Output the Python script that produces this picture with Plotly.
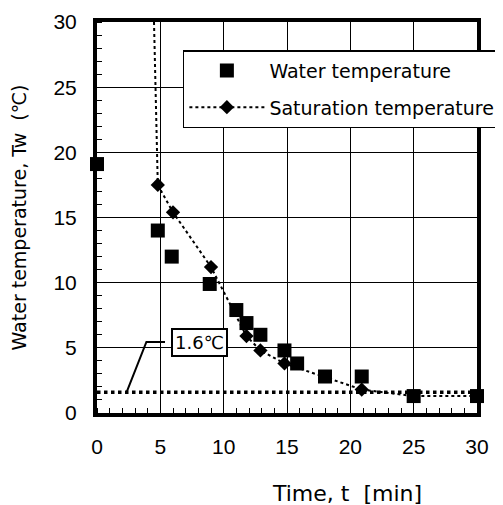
import plotly.graph_objects as go

# Water temperature (squares)
water_t = [0, 4.8, 5.9, 8.9, 11.0, 11.8, 12.9, 14.8, 15.8, 18.0, 20.9, 25.0, 30.0]
water_T = [19.1, 14.0, 12.0, 9.9, 7.9, 6.9, 6.0, 4.8, 3.8, 2.8, 2.8, 1.3, 1.3]

# Saturation temperature: steep initial part, then diamonds
sat_lead_t = [4.5, 4.8]
sat_lead_T = [30.0, 17.5]
sat_t = [4.8, 6.0, 9.0, 11.8, 12.9, 14.8, 20.9]
sat_T = [17.5, 15.4, 11.2, 5.9, 4.8, 3.8, 1.8]
sat_tail_t = [20.9, 25.0, 30.0]
sat_tail_T = [1.8, 1.3, 1.3]

# 1.6 degC reference level
ref_t = [0, 30]
ref_T = [1.6, 1.6]

# leader line of the "1.6℃" label
lead_t = [2.34, 3.9, 5.37]
lead_T = [1.6, 5.45, 5.45]
label_t, label_T = 8.13, 5.4

x_ticks = [0, 5, 10, 15, 20, 25, 30]
y_ticks = [0, 5, 10, 15, 20, 25, 30]
x_title = "Time, t  [min]"
y_title = "Water temperature, Tw  (℃)"

FONT = "DejaVu Sans"
DOT = dict(color="black", width=2, dash="dot")

fig = go.Figure()

fig.add_trace(go.Scatter(
    x=ref_t, y=ref_T, mode="lines", showlegend=False,
    line=dict(color="black", width=3.5, dash="dot"), hoverinfo="skip"))

fig.add_trace(go.Scatter(
    x=lead_t, y=lead_T, mode="lines", showlegend=False,
    line=dict(color="black", width=2), hoverinfo="skip"))

fig.add_trace(go.Scatter(
    x=sat_lead_t, y=sat_lead_T, mode="lines", showlegend=False,
    line=DOT, hoverinfo="skip"))
fig.add_trace(go.Scatter(
    x=sat_tail_t, y=sat_tail_T, mode="lines", showlegend=False,
    line=DOT, hoverinfo="skip"))

fig.add_trace(go.Scatter(
    x=sat_t, y=sat_T, mode="lines+markers", name="Saturation temperature",
    legendgroup="b", legendrank=2,
    line=DOT,
    marker=dict(symbol="diamond", color="black", size=11, opacity=1,
                line=dict(width=0))))

fig.add_trace(go.Scatter(
    x=water_t, y=water_T, mode="markers", name="Water temperature",
    legendgroup="a", legendrank=1, cliponaxis=False,
    marker=dict(symbol="square", color="black", size=14,
                line=dict(width=0))))

fig.add_annotation(
    x=label_t, y=label_T, text="1.6℃", showarrow=False,
    font=dict(family=FONT, size=18, color="black"),
    bgcolor="white", bordercolor="black", borderwidth=2, borderpad=2)

# x-axis title (placed right of centre, as in the original figure)
fig.add_annotation(
    xref="paper", yref="paper", x=0.657, y=-0.207,
    xanchor="center", yanchor="middle", showarrow=False,
    text=x_title,
    font=dict(family=FONT, size=22, color="black"))

axis_common = dict(
    showgrid=True, gridcolor="black", gridwidth=1,
    showline=True, linecolor="black", linewidth=4, mirror=True,
    zeroline=False, ticks="", automargin=False,
    tickfont=dict(family="Liberation Sans", size=21, color="black"),
    minor=dict(ticks="inside", ticklen=5, dtick=1, tickcolor="black",
               showgrid=False),
)

fig.update_xaxes(
    range=[0, 30], tickvals=x_ticks, ticklabelstandoff=12,
    **axis_common)
fig.update_yaxes(
    range=[0, 30], tickvals=y_ticks, ticklabelstandoff=12,
    title=dict(text=y_title, standoff=35,
               font=dict(family=FONT, size=19, color="black")),
    **axis_common)

fig.update_layout(
    width=495, height=497,
    margin=dict(l=89, r=26, t=14, b=92, autoexpand=False),
    paper_bgcolor="white", plot_bgcolor="white",
    showlegend=True,
    legend=dict(x=0.226, y=0.928, xanchor="left", yanchor="top",
                bgcolor="white", bordercolor="black", borderwidth=1.5,
                font=dict(family=FONT, size=19, color="black"),
                traceorder="grouped", tracegroupgap=9, itemwidth=75),
)

fig.write_html("out.html")
